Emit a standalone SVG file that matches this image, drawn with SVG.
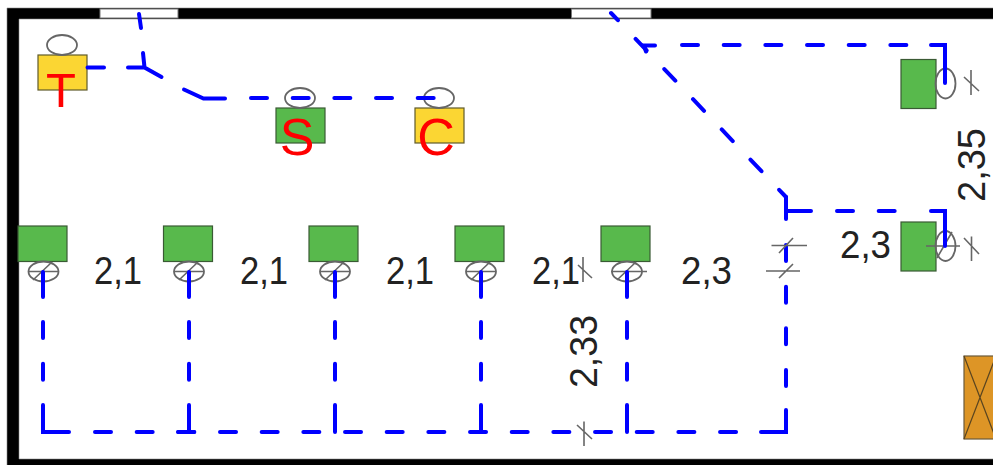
<svg xmlns="http://www.w3.org/2000/svg" width="993" height="465" viewBox="0 0 993 465">
<defs>
<style>
.wall{fill:#000;fill-rule:evenodd;stroke:#888;stroke-width:.6}
.door{fill:#fff;stroke:#777;stroke-width:1}
.g{fill:#58b94c;stroke:#3a5a34;stroke-width:1.2}
.y{fill:#fbd633;stroke:#5f5a2a;stroke-width:1.2}
.o{fill:#dd9526;stroke:#6b5a3a;stroke-width:1.2}
.e{fill:none;stroke:#666;stroke-width:1.8}
.t{fill:none;stroke:#666;stroke-width:1.6}
.x{fill:none;stroke:#5a4520;stroke-width:1.2}
.w,.s{fill:none;stroke:#0000ff;stroke-width:4;stroke-linecap:round;stroke-linejoin:miter}
.w{stroke-dasharray:16 25.67}
.n{font-family:"Liberation Sans",Arial,sans-serif;font-size:39px;fill:#222}
.r{font-family:"Liberation Sans",Arial,sans-serif;fill:#ff0000;text-anchor:middle}
</style>
</defs>
<g id="walls">
<path class="wall" d="M1000 8H7V470H1000ZM1000 19H19V459H1000Z"/>
<rect class="door" x="100" y="9" width="78" height="9"/>
<rect class="door" x="571.500" y="9" width="79.500" height="9"/>
</g>
<g id="node-t"><rect class="y" x="38" y="55" width="49" height="35"/><ellipse class="e" cx="62" cy="45" rx="15" ry="10"/><text class="r" x="61" y="107" font-size="49">T</text></g>
<g id="node-s"><rect class="g" x="276" y="108" width="49" height="35"/><ellipse class="e" cx="300" cy="98" rx="15" ry="10"/><text class="r" x="297" y="155" font-size="52">S</text></g>
<g id="node-c"><rect class="y" x="415" y="108" width="49" height="35"/><ellipse class="e" cx="439" cy="98" rx="15" ry="10"/><text class="r" x="436" y="155" font-size="52">C</text></g>
<g id="node-d1"><rect class="g" x="18" y="226" width="49" height="35.500"/><ellipse class="e" cx="43.500" cy="271.500" rx="15" ry="10"/><path class="t" d="M28 271.500H58M33 280L52 262"/></g>
<g id="node-d2"><rect class="g" x="163.500" y="226" width="49" height="35.500"/><ellipse class="e" cx="189" cy="271.500" rx="15" ry="10"/><path class="t" d="M174 271.500H204M179 280L198 262"/></g>
<g id="node-d3"><rect class="g" x="309" y="226" width="49" height="35.500"/><ellipse class="e" cx="335" cy="271.500" rx="15" ry="10"/><path class="t" d="M320 271.500H350M325 280L344 262"/></g>
<g id="node-d4"><rect class="g" x="455" y="226" width="49" height="35.500"/><ellipse class="e" cx="481" cy="271.500" rx="15" ry="10"/><path class="t" d="M466 271.500H496M471 280L490 262"/></g>
<g id="node-d5"><rect class="g" x="601" y="226" width="49" height="35.500"/><ellipse class="e" cx="627" cy="271.500" rx="15" ry="10"/><path class="t" d="M611 271.500H647M617 280L636 262"/></g>
<g id="node-r1"><rect class="g" x="901" y="59.500" width="35" height="49"/><ellipse class="e" cx="945.500" cy="83.500" rx="10" ry="15"/></g>
<g id="node-r2"><rect class="g" x="901" y="222" width="35" height="49"/><ellipse class="e" cx="945.500" cy="246" rx="10" ry="15"/><path class="t" d="M926 246H960M937 258L952 232"/></g>
<g id="node-panel"><rect class="o" x="964" y="356" width="32" height="83"/><path class="x" d="M964 356L996 439M996 356L964 439"/></g>
<g id="connectors">
<path class="s" d="M139 14L141 28M143 53L144.500 67.500M128 67.500H144.500L161.500 77M104 67.500H87.500M184 89.500L203.500 98.500H225"/>
<path class="w" d="M251 98H440"/>
<path class="w" stroke-dashoffset="6" d="M611 13L786 197"/>
<path class="s" d="M646 51.500L644 45.500H655M786 197V219M786 211H811M931 211H945V246M931 45H945V83"/>
<path class="w" d="M682 45H920"/>
<path class="w" d="M837 211H915"/>
<path class="w" d="M95 432H755"/>
<path class="s" d="M43 272V297M189 272V297M335 272V297M481 272V297M627 272V297M43 405V432H69M189 405V432M335 405V432M481 405V432M627 405V432M761 432H786V410M178 432H194"/>
<path class="w" d="M43 322V404"/>
<path class="w" d="M189 322V404"/>
<path class="w" d="M335 322V404"/>
<path class="w" d="M481 322V404"/>
<path class="w" d="M627 322V404"/>
<path class="w" d="M786 245V405"/>
</g>
<g id="ticks">
<path class="t" d="M583 257V282M578 265L592 278"/>
<path class="t" d="M971 70V95M964 77L979 91"/>
<path class="t" d="M971.500 236.500V261M964 238L979 254"/>
<path class="t" d="M771.500 245.500H807M779 253L793 238"/>
<path class="t" d="M766 271H800M779 278L793 264"/>
<path class="t" d="M584 421.500V446M577 425L592 439"/>
</g>
<g id="labels">
<text class="n" x="94" y="284" textLength="48" lengthAdjust="spacingAndGlyphs">2,1</text>
<text class="n" x="240" y="284" textLength="48" lengthAdjust="spacingAndGlyphs">2,1</text>
<text class="n" x="386" y="284" textLength="48" lengthAdjust="spacingAndGlyphs">2,1</text>
<text class="n" x="532" y="284" textLength="48" lengthAdjust="spacingAndGlyphs">2,1</text>
<text class="n" x="681" y="284" textLength="51" lengthAdjust="spacingAndGlyphs">2,3</text>
<text class="n" x="840" y="258" textLength="51" lengthAdjust="spacingAndGlyphs">2,3</text>
<text class="n" transform="translate(597 388) rotate(-90)" textLength="73" lengthAdjust="spacingAndGlyphs">2,33</text>
<text class="n" transform="translate(985 202) rotate(-90)" textLength="74" lengthAdjust="spacingAndGlyphs">2,35</text>
</g>
</svg>
